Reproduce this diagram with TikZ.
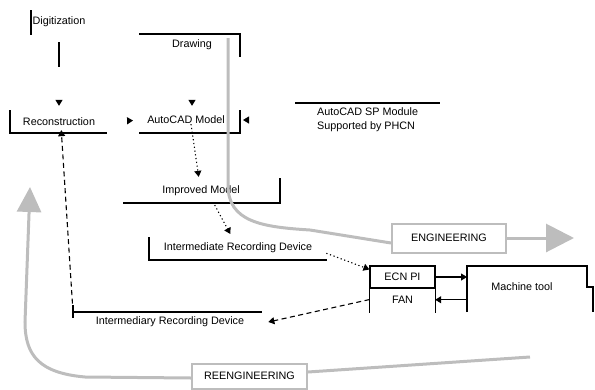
\documentclass[tikz,border=0pt]{standalone}
\usepackage{fontspec}
\setmainfont{Liberation Sans}
\usetikzlibrary{arrows.meta}
\definecolor{flowgray}{HTML}{BDBDBD}

\begin{document}
\begin{tikzpicture}[x=1pt, y=-1pt,
    lbl/.style={inner sep=0pt, font=\fontsize{10.8}{13}\selectfont},
    bracket/.style={line width=1.1pt},
    arrow/.style={-{Triangle[length=6pt, width=7pt]}, line width=1.1pt},
    dotline/.style={dash pattern=on 1.2pt off 2.6pt},
    dashline/.style={dash pattern=on 5pt off 3.5pt},
    flowbox/.style={draw=flowgray, line width=2pt, minimum width=114pt, minimum height=29pt, font=\fontsize{10.8}{13}\selectfont},
    flow/.style={draw=flowgray, line width=3pt},
]
\useasboundingbox (0,0) rectangle (595,389);

% Labels
\node[lbl] (dig) at (59,22) {Digitization};
\node[lbl] (drw) at (192,45) {Drawing};
\node[lbl] (rec) at (59,122) {Reconstruction};
\node[lbl] (cad) at (186,120) {AutoCAD Model};
\node[lbl, anchor=west, align=left] (spm) at (317,120) {AutoCAD SP Module\\[1pt]Supported by PHCN};
\node[lbl] (imp) at (201,191) {Improved Model};
\node[lbl] (ird) at (238,248) {Intermediate Recording Device};
\node[lbl] (ird2) at (170,322) {Intermediary Recording Device};

% ECN PI / FAN and Machine tool
\node[lbl, draw, line width=1.1pt, minimum width=65pt, minimum height=22pt] (ecn) at (402.5,277) {ECN PI};
\node[lbl, minimum width=65pt, minimum height=22pt, anchor=north] (fan) at (ecn.south) {FAN};
\node[lbl] (mt) at (522,287) {Machine tool};
\coordinate (mtl) at (467,266);
\coordinate (cadr) at (243,120);
\coordinate (irdl) at (73,312);

% Engineering boxes
\node[flowbox] (eng) at (449,238) {ENGINEERING};
\node[flowbox, minimum width=115pt, minimum height=25pt] (reeng) at (249.5,376) {REENGINEERING};
\coordinate (engtip) at (574,238);
\coordinate (rstart) at (530,357);
\coordinate (rtip) at (30,187);

% Brackets
\draw[bracket] (31,10) -- (31,35);
\draw[bracket] (139,34) -- (240,34) -- (240,57);
\draw[bracket] (10,110) -- (10,133) -- (107,133);
\draw[bracket] (139,133) -- (240,133) -- (240,110);
\draw[bracket] (295,103) -- (440,103);
\draw[bracket] (123,203) -- (280,203) -- (280,178);
\draw[bracket] (149,237) -- (149,260) -- (327,260);
\draw[bracket] (fan.north west) -- ++(0,24);
\draw[bracket] (fan.north east) -- ++(0,24);
\draw[bracket] (467,312) -- (mtl) -- (587,266) -- (587,287) -- (593,287) -- (593,312);
\draw[bracket] (irdl) -- (262,312) (73,305) -- (73,318);

% Arrows
\draw[arrow, dash pattern=on 0pt off 15pt on 25pt off 100pt, shorten >=12pt] (dig.south) -- (dig.south |- rec.north);
\draw[arrow, dash pattern=on 0pt off 200pt, shorten >=10pt] (drw.south) -- (drw.south |- cad.north);
\draw[arrow, dash pattern=on 0pt off 200pt, shorten >=14pt] (rec.east) -- (cad.west);
\draw[arrow, dash pattern=on 0pt off 200pt] (spm.west) -- (cadr);
\draw[arrow, dotline, shorten >=9pt] ([xshift=5pt]cad.south) -- ([xshift=-1pt]imp.north);
\draw[arrow, dotline, shorten <=10pt, shorten >=10pt] ([xshift=9pt]imp.south) -- ([xshift=-3pt]ird.north);
\draw[arrow, dotline, shorten <=15pt] (ird.east) -- ([yshift=-4pt]ecn.north west);
\draw[arrow] (ecn.east) -- (ecn.east -| mtl);
\draw[arrow] (mtl |- fan.east) -- (fan.east);
\draw[arrow, dashline] ([yshift=-11pt]ecn.south west) -- ([xshift=24pt]ird2.east);
\draw[arrow, dashline, shorten >=4pt] (irdl) -- ([xshift=2pt]rec.south);

% Engineering / reengineering flows
\draw[flow] (228,38) -- (228,185) .. controls (228,222) and (262,227) .. (310,230) -- ([yshift=-5pt]eng.west);
\draw[flow, -{Triangle[length=28pt, width=28pt]}] (eng.east) -- (engtip);
\draw[flow] (rstart) -- ([yshift=4pt]reeng.east);
\draw[flow, -{Triangle[length=25pt, width=24pt]}] ([yshift=-2pt]reeng.west) -- (85,377) .. controls (40,373) and (25,356) .. (25,322) -- (rtip);

\end{tikzpicture}
\end{document}
